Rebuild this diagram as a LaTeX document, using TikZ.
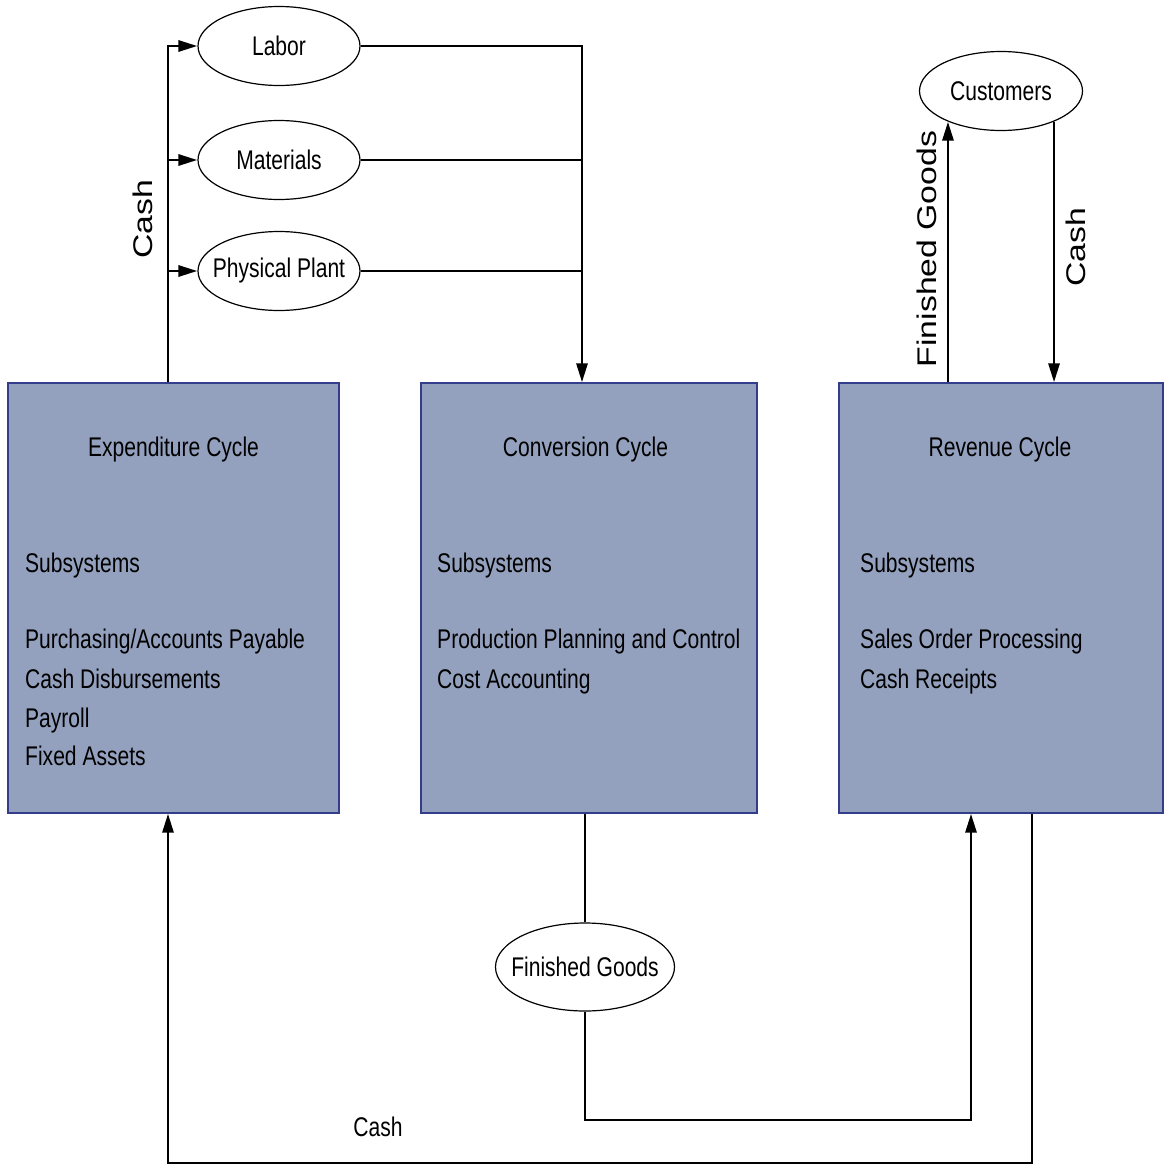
\documentclass[tikz,border=0pt]{standalone}
\usepackage{fontspec}
\setmainfont{Liberation Sans}
\newfontfamily\narrowsans[FakeStretch=0.78]{Liberation Sans}
\newfontfamily\widesans[FakeStretch=1.25]{Liberation Sans}
\usetikzlibrary{arrows.meta,shapes.geometric}

\definecolor{cyclefill}{RGB}{148,161,190}
\definecolor{cycleedge}{RGB}{52,60,140}

\begin{document}
\begin{tikzpicture}[x=1pt,y=-1pt,
  cyclebox/.style={draw=cycleedge, line width=1.3pt, fill=cyclefill,
    minimum height=430pt, inner sep=0pt},
  resource/.style={ellipse, draw, line width=1.2pt, fill=white,
    minimum width=162pt, minimum height=79pt, inner ysep=0pt, inner xsep=-16pt,
    font=\narrowsans\fontsize{27}{30}\selectfont},
  boxtitle/.style={anchor=base, inner sep=0pt,
    font=\narrowsans\fontsize{27}{30}\selectfont},
  boxtext/.style={anchor=base west, inner sep=0pt,
    font=\narrowsans\fontsize{27}{30}\selectfont},
  sidelabel/.style={rotate=90, inner sep=0pt,
    font=\widesans\fontsize{27}{30}\selectfont},
  flatlabel/.style={inner sep=0pt, font=\narrowsans\fontsize{27}{30}\selectfont},
  link/.style={line width=2.9pt},
  flow/.style={line width=2.9pt, -{Triangle[length=19pt,width=11pt]}},
]
\useasboundingbox (0,0) rectangle (1164,1167);

% the three cycles
\node[cyclebox, minimum width=331pt] (exp)  at (173.5,598) {};
\node[cyclebox, minimum width=336pt] (conv) at (589,598) {};
\node[cyclebox, minimum width=324pt] (rev)  at (1001,598) {};

\node[boxtitle] (exptitle)  at (173.5,456) {Expenditure Cycle};
\node[boxtext]  (expsub)    at (25,572) {Subsystems};
\node[boxtext]  (exp1)      at (25,648) {Purchasing/Accounts Payable};
\node[boxtext]  (exp2)      at (25,688) {Cash Disbursements};
\node[boxtext]  (exp3)      at (25,727) {Payroll};
\node[boxtext]  (exp4)      at (25,765) {Fixed Assets};

\node[boxtitle] (convtitle) at (585.5,456) {Conversion Cycle};
\node[boxtext]  (convsub)   at (437,572) {Subsystems};
\node[boxtext]  (conv1)     at (437,648) {Production Planning and Control};
\node[boxtext]  (conv2)     at (437,688) {Cost Accounting};

\node[boxtitle] (revtitle)  at (1000,456) {Revenue Cycle};
\node[boxtext]  (revsub)    at (860,572) {Subsystems};
\node[boxtext]  (rev1)      at (860,648) {Sales Order Processing};
\node[boxtext]  (rev2)      at (860,688) {Cash Receipts};

% resources and outside parties
\node[resource] (labor)     at (279,46)  {Labor};
\node[resource] (materials) at (279,160) {Materials};
\node[resource] (plant)     at (279,271) {Physical Plant};
\node[resource, minimum width=163pt] (cust) at (1001,91) {Customers};
\node[resource, minimum width=179pt, minimum height=88pt] (fg) at (585,967) {Finished Goods};

% cash paid out for resources
\coordinate (cashtop) at (168,46);
\draw[flow] (exp.north -| cashtop) -- (cashtop) -- (labor.west);
\draw[flow] (cashtop |- materials.west) -- (materials.west);
\draw[flow] (cashtop |- plant.west) -- (plant.west);

% resources into conversion
\coordinate (merge) at (582,46);
\draw[flow] (labor.east) -- (merge) -- (conv.north -| merge);
\draw[link] (materials.east) -- (materials.east -| merge);
\draw[link] (plant.east) -- (plant.east -| merge);

% finished goods to revenue
\coordinate (fgturn) at (585,1120);
\coordinate (fgin) at (971,0);
\draw[link] (conv.south -| fg.north) -- (fg.north);
\draw[flow] (fg.south) -- (fgturn) -| (rev.south -| fgin);

% customers
\draw[flow] (rev.north -| cust.210) -- (cust.210);
\draw[flow] (cust.330) -- (cust.330 |- rev.north);

% cash back to expenditure
\coordinate (cashout) at (1032,1163);
\coordinate (cashin) at (168,1163);
\draw[flow] (rev.south -| cashout) -- (cashout) -- (cashin) -- (exp.south -| cashin);

% flow labels
\node[sidelabel] (cashleft)   at (143,219)  {Cash};
\node[sidelabel] (fglabel)    at (927,249)  {Finished Goods};
\node[sidelabel] (cashright)  at (1076,247) {Cash};
\node[flatlabel] (cashbottom) at (378,1127) {Cash};
\end{tikzpicture}
\end{document}
